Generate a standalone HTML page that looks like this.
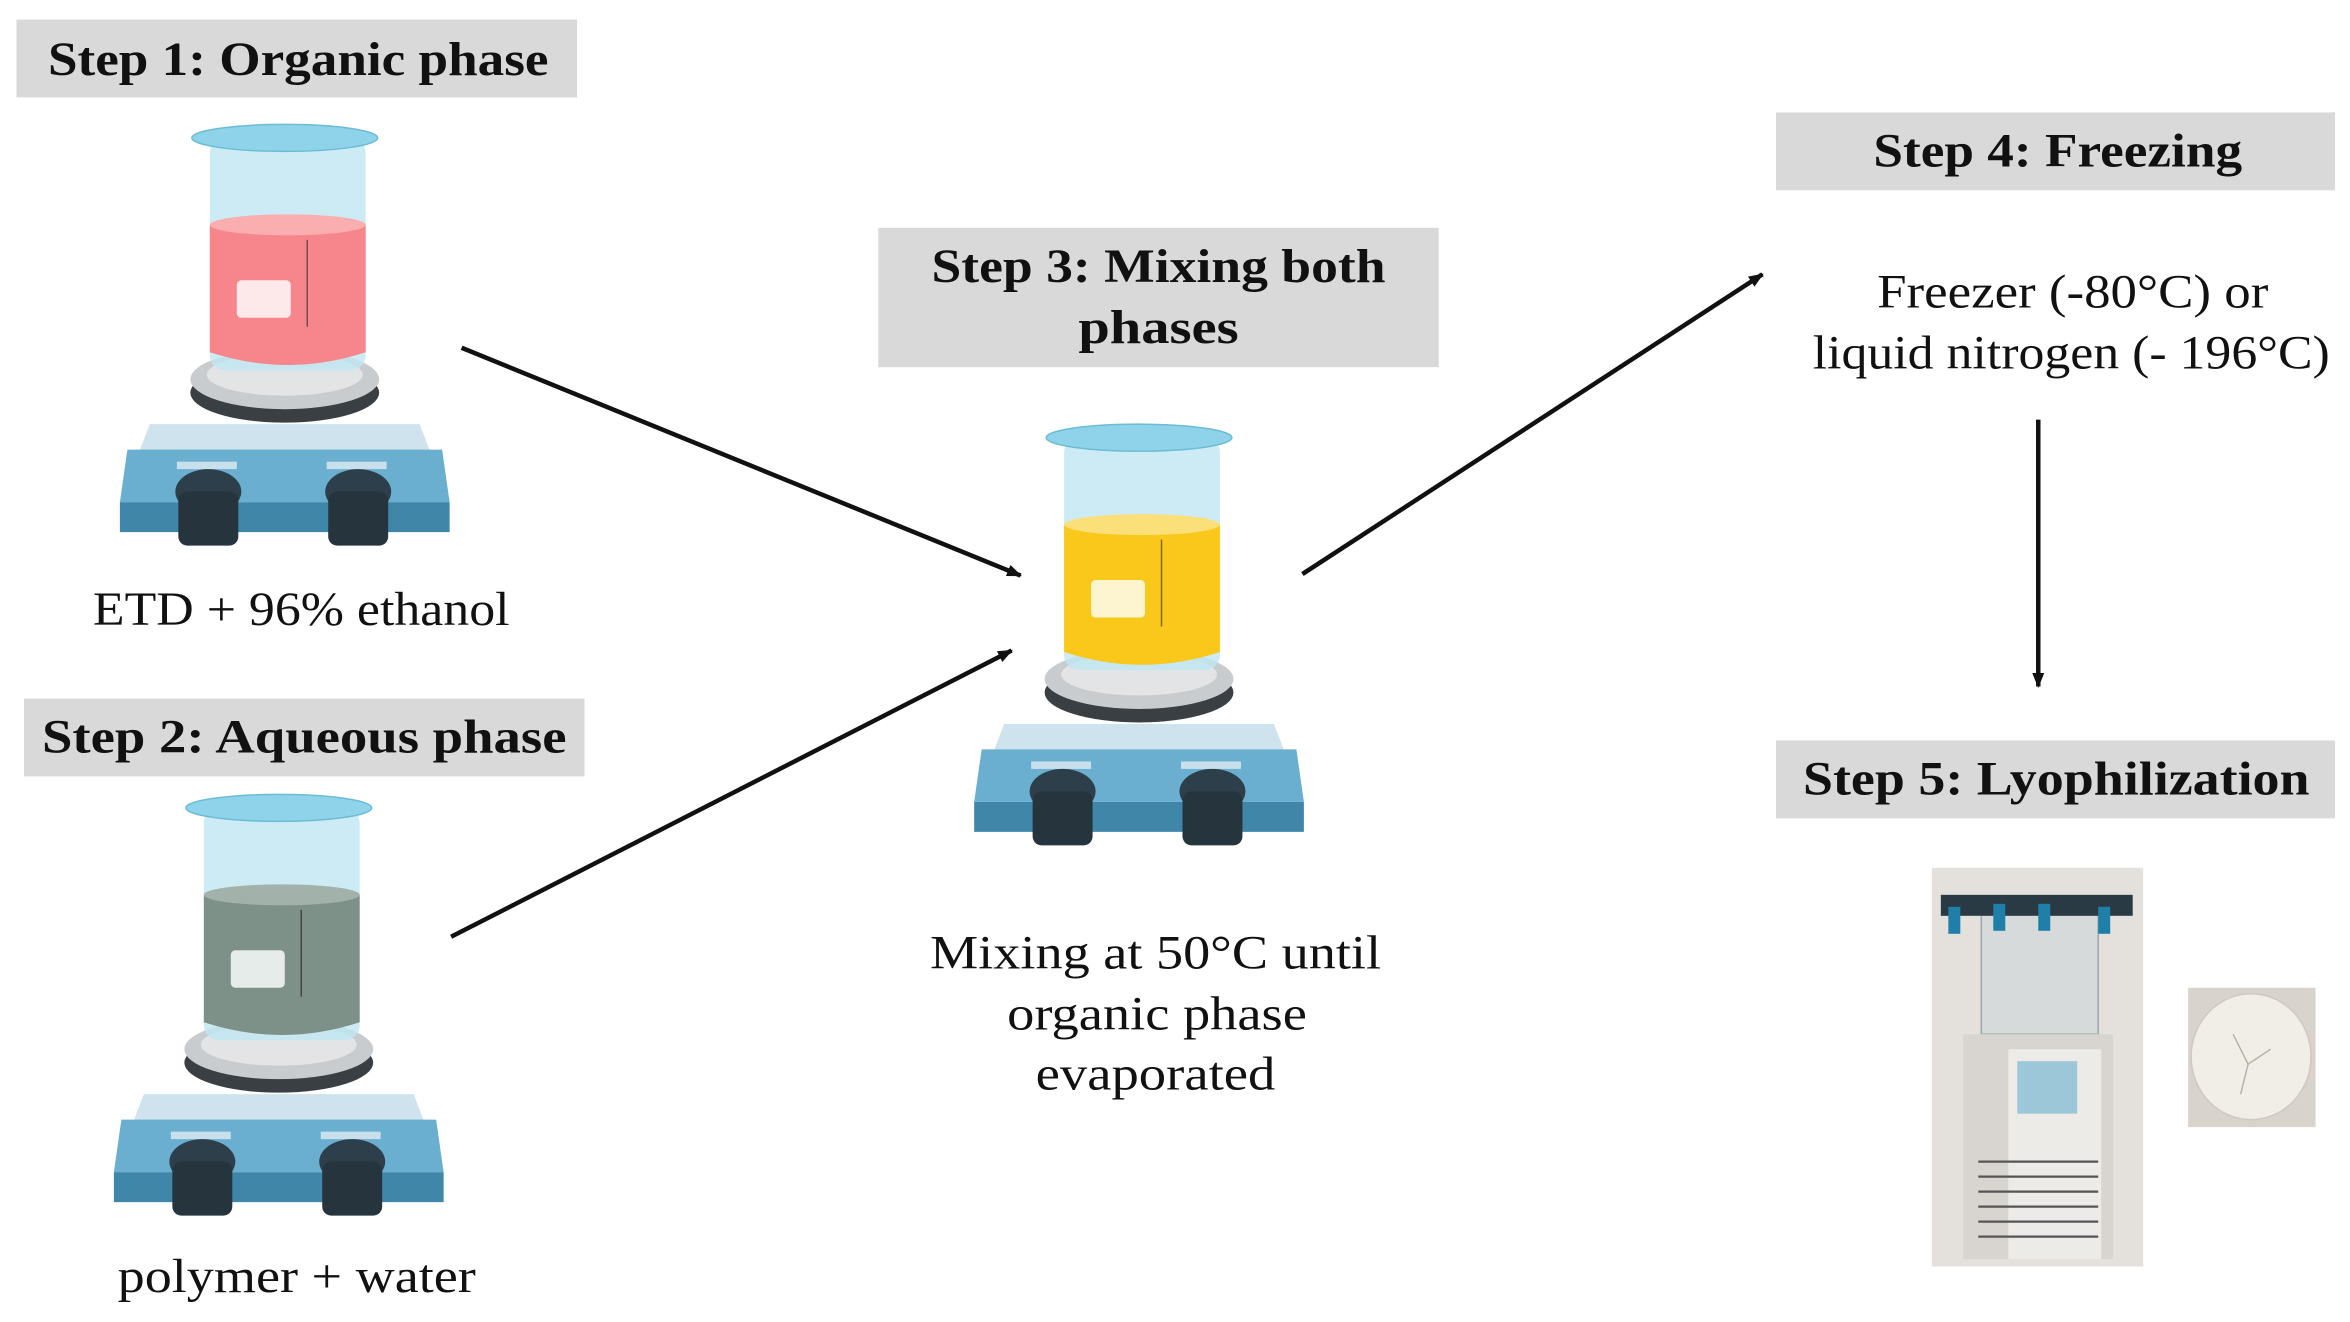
<!DOCTYPE html>
<html><head><meta charset="utf-8"><style>
html,body{margin:0;padding:0;background:#fff;}
svg{display:block;}
text{font-family:"Liberation Serif",serif;fill:#111;}
.h{font-weight:bold;font-size:32px;text-anchor:middle;}
.t{font-size:32px;text-anchor:middle;}
</style></head><body>
<svg width="2350" height="1322" viewBox="0 0 1568 882" preserveAspectRatio="none" xmlns="http://www.w3.org/2000/svg">
<defs>
<marker id="ah" markerWidth="10" markerHeight="8" refX="9" refY="4" orient="auto" markerUnits="userSpaceOnUse">
<path d="M0,0 L10,4 L0,8 Z" fill="#111"/></marker>
<g id="plate">
<path d="M100,283 L280,283 L300,335 L80,335 Z" fill="#cfe3ee"/>
<path d="M80,335 L300,335 L300,355 L80,355 Z" fill="#3f86a8"/>
<path d="M85,300 L295,300 L300,335 L80,335 Z" fill="#6aaed0"/>
<rect x="118" y="308" width="40" height="5" fill="#c8e0ec"/>
<rect x="218" y="308" width="40" height="5" fill="#c8e0ec"/>
<ellipse cx="139" cy="328" rx="22" ry="15" fill="#2d3f4a"/>
<rect x="119" y="328" width="40" height="36" rx="6" fill="#25343d"/>
<ellipse cx="239" cy="328" rx="22" ry="15" fill="#2d3f4a"/>
<rect x="219" y="328" width="40" height="36" rx="6" fill="#25343d"/>
<ellipse cx="190" cy="262" rx="63" ry="20" fill="#3a3f44"/>
<ellipse cx="190" cy="253" rx="63" ry="20" fill="#c9ccce"/>
<ellipse cx="190" cy="250" rx="52" ry="14" fill="#e2e4e5"/>
</g>
</defs>

<g stroke="#111" stroke-width="3" fill="none">
<line x1="308" y1="232" x2="681" y2="384" marker-end="url(#ah)"/>
<line x1="301" y1="625" x2="675" y2="434" marker-end="url(#ah)"/>
<line x1="869" y1="383" x2="1176" y2="183" marker-end="url(#ah)"/>
<line x1="1360" y1="280" x2="1360" y2="458" marker-end="url(#ah)"/>
</g>

<g>
<use href="#plate"/>
<rect x="140" y="92" width="104" height="155" rx="10" fill="#bfe6f2" opacity="0.8"/>
<path d="M140,150 L244,150 L244,235 Q192,252 140,235 Z" fill="#f7868c"/>
<ellipse cx="192" cy="150" rx="52" ry="7" fill="#fbaeb0"/>
<rect x="158" y="187" width="36" height="25" rx="3" fill="#fde8ea"/>
<line x1="205" y1="160" x2="205" y2="218" stroke="#7a4a4a"/>
<ellipse cx="190" cy="92" rx="62" ry="9" fill="#8fd3ea" stroke="#6cbcd6"/>
</g>
<g transform="translate(-4,447)">
<use href="#plate"/>
<rect x="140" y="92" width="104" height="155" rx="10" fill="#bfe6f2" opacity="0.8"/>
<path d="M140,150 L244,150 L244,235 Q192,252 140,235 Z" fill="#7e9189"/>
<ellipse cx="192" cy="150" rx="52" ry="7" fill="#a2b1aa"/>
<rect x="158" y="187" width="36" height="25" rx="3" fill="#e6ecea"/>
<line x1="205" y1="160" x2="205" y2="218" stroke="#444"/>
<ellipse cx="190" cy="92" rx="62" ry="9" fill="#8fd3ea" stroke="#6cbcd6"/>
</g>
<g transform="translate(570,200)">
<use href="#plate"/>
<rect x="140" y="92" width="104" height="155" rx="10" fill="#bfe6f2" opacity="0.8"/>
<path d="M140,150 L244,150 L244,235 Q192,252 140,235 Z" fill="#f9c81a"/>
<ellipse cx="192" cy="150" rx="52" ry="7" fill="#fbe07a"/>
<rect x="158" y="187" width="36" height="25" rx="3" fill="#fdf4d0"/>
<line x1="205" y1="160" x2="205" y2="218" stroke="#7a6a2a"/>
<ellipse cx="190" cy="92" rx="62" ry="9" fill="#8fd3ea" stroke="#6cbcd6"/>
</g>

<rect x="11" y="13" width="374" height="52" fill="#d9d9d9"/>
<text class="h" x="199" y="50" textLength="334" lengthAdjust="spacingAndGlyphs">Step 1: Organic phase</text>
<rect x="16" y="466" width="374" height="52" fill="#d9d9d9"/>
<text class="h" x="203" y="502" textLength="350" lengthAdjust="spacingAndGlyphs">Step 2: Aqueous phase</text>
<rect x="586" y="152" width="374" height="93" fill="#d9d9d9"/>
<text class="h" x="773" y="188" textLength="303" lengthAdjust="spacingAndGlyphs">Step 3: Mixing both</text>
<text class="h" x="773" y="229" textLength="107" lengthAdjust="spacingAndGlyphs">phases</text>
<rect x="1185" y="75" width="373" height="52" fill="#d9d9d9"/>
<text class="h" x="1373" y="111" textLength="246" lengthAdjust="spacingAndGlyphs">Step 4: Freezing</text>
<rect x="1185" y="494" width="373" height="52" fill="#d9d9d9"/>
<text class="h" x="1372" y="530" textLength="338" lengthAdjust="spacingAndGlyphs">Step 5: Lyophilization</text>

<text class="t" x="201" y="417" textLength="278" lengthAdjust="spacingAndGlyphs">ETD + 96% ethanol</text>
<text class="t" x="198" y="862" textLength="239" lengthAdjust="spacingAndGlyphs">polymer  + water</text>
<text class="t" x="771" y="646" textLength="301" lengthAdjust="spacingAndGlyphs">Mixing at 50°C until</text>
<text class="t" x="772" y="687" textLength="200" lengthAdjust="spacingAndGlyphs">organic phase</text>
<text class="t" x="771" y="727" textLength="160" lengthAdjust="spacingAndGlyphs">evaporated</text>
<text class="t" x="1383" y="205" textLength="261" lengthAdjust="spacingAndGlyphs">Freezer (-80°C) or</text>
<text class="t" x="1382" y="246" textLength="345" lengthAdjust="spacingAndGlyphs">liquid nitrogen (- 196°C)</text>

<rect x="1289" y="579" width="141" height="266" fill="#e4e1dd"/>
<rect x="1322" y="610" width="78" height="80" fill="#d7dadb" stroke="#9aa" />
<rect x="1295" y="597" width="128" height="14" fill="#2a3a44"/>
<rect x="1300" y="605" width="8" height="18" fill="#1f7fa8"/>
<rect x="1330" y="603" width="8" height="18" fill="#1f7fa8"/>
<rect x="1360" y="603" width="8" height="18" fill="#1f7fa8"/>
<rect x="1400" y="605" width="8" height="18" fill="#1f7fa8"/>
<rect x="1310" y="690" width="100" height="150" fill="#d8d5d0"/>
<rect x="1340" y="700" width="62" height="140" fill="#ecebe8"/>
<rect x="1346" y="708" width="40" height="35" fill="#9cc7d8"/>
<g stroke="#555" stroke-width="1.5">
<line x1="1320" y1="775" x2="1400" y2="775"/><line x1="1320" y1="785" x2="1400" y2="785"/>
<line x1="1320" y1="795" x2="1400" y2="795"/><line x1="1320" y1="805" x2="1400" y2="805"/>
<line x1="1320" y1="815" x2="1400" y2="815"/><line x1="1320" y1="825" x2="1400" y2="825"/>
</g>
<rect x="1460" y="659" width="85" height="93" fill="#d8d3cc"/>
<ellipse cx="1502" cy="705" rx="40" ry="42" fill="#f1eee8" stroke="#cfc9bf"/>
<path d="M1490,690 L1500,710 L1515,700 M1500,710 L1495,730" stroke="#b9b2a6" fill="none"/>
</svg>
</body></html>
